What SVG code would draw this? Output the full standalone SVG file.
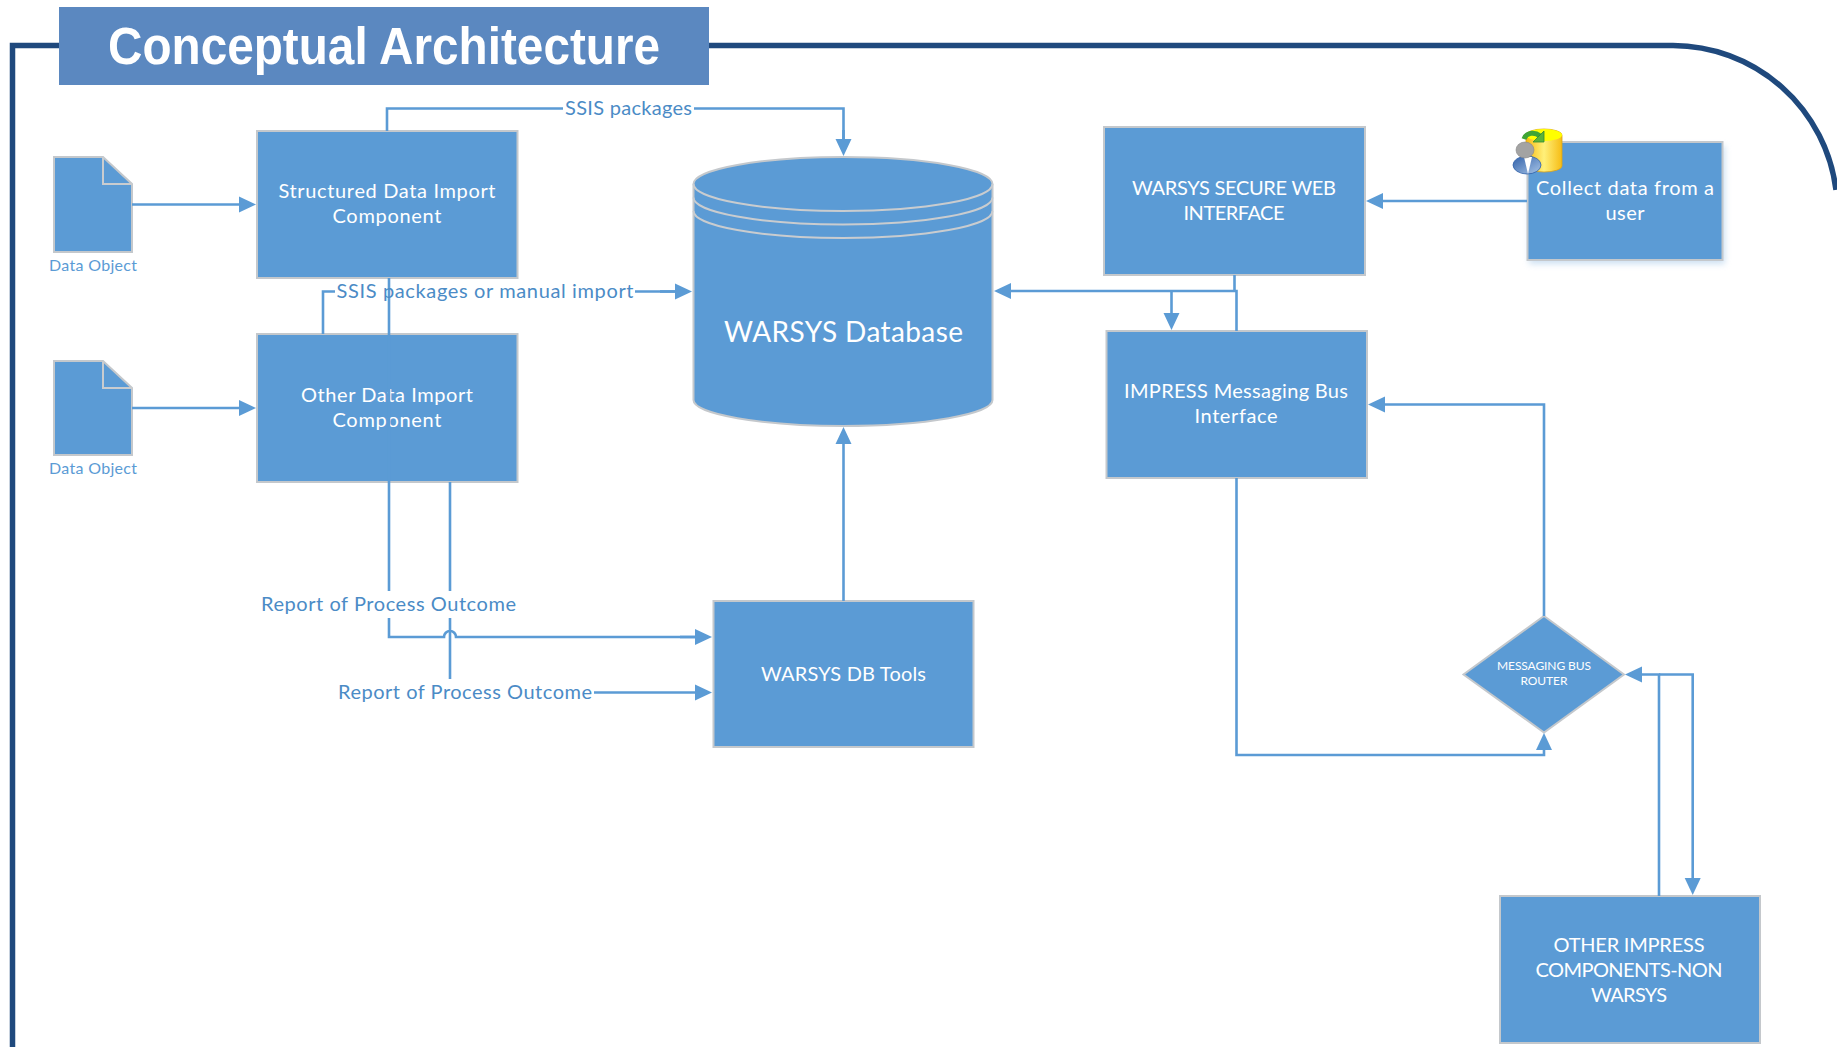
<svg xmlns="http://www.w3.org/2000/svg" width="1837" height="1047" viewBox="0 0 1837 1047">
<style>
text{font-family:"Lato","Carlito","Open Sans",sans-serif;text-anchor:middle}
.box{fill:#5B9BD5;stroke:#C4C8CC;stroke-width:2}
.t{fill:#fff;font-size:20px}
.t2{fill:#fff;font-size:12px}
.lbl{fill:#4B8BC6;font-size:20px}
.dl{fill:#5B9BD5;font-size:16px}
.c{fill:none;stroke:#5B9BD5;stroke-width:2.6}
.a{marker-end:url(#arr)}
.rim{fill:none;stroke:#C9CCCF;stroke-width:2}
</style>
<defs>
<marker id="arr" markerUnits="userSpaceOnUse" markerWidth="18" markerHeight="18" refX="13" refY="9" orient="auto"><path d="M0 1 L17 9 L0 17 Z" fill="#5B9BD5"/></marker>
<filter id="sh" x="-10%" y="-10%" width="120%" height="125%"><feGaussianBlur stdDeviation="3"/></filter>
<linearGradient id="yel" x1="0" x2="1" y1="0" y2="0"><stop offset="0" stop-color="#F9B90F"/><stop offset="0.5" stop-color="#FFF07A"/><stop offset="1" stop-color="#F6BC14"/></linearGradient>
<linearGradient id="suit" x1="0" x2="1" y1="0" y2="1"><stop offset="0" stop-color="#2F5FA8"/><stop offset="1" stop-color="#A9C6E8"/></linearGradient>
</defs>

<g id="frame"><path d="M12.5 1047 V45.5 H1673 A165 165 0 0 1 1836 190" fill="none" stroke="#1F497D" stroke-width="5.500"/></g>
<g id="title"><rect x="59" y="7" width="650" height="78" fill="#5B88C0"/><text x="384" y="64" textLength="552" lengthAdjust="spacingAndGlyphs" style="font-family:'Liberation Sans',Arial,sans-serif;font-weight:700;font-size:51px;fill:#fff">Conceptual Architecture</text></g>

<g id="doc1"><path d="M54 157 H103 L132 184 V252 H54 Z" class="box"/><path d="M103 157 V184 H132" class="rim"/><text x="93" y="271" class="dl" textLength="88">Data Object</text></g>
<g id="doc2"><path d="M54 361 H103 L132 388 V455 H54 Z" class="box"/><path d="M103 361 V388 H132" class="rim"/><text x="93" y="474" class="dl" textLength="88">Data Object</text></g>

<g id="structured"><rect x="257" y="131" width="260.500" height="147" class="box"/><text x="387" y="198" class="t" textLength="217">Structured Data Import</text><text x="387" y="223" class="t" textLength="109">Component</text></g>
<g id="other-import"><rect x="257" y="334" width="260.500" height="148" class="box"/><text x="387" y="402" class="t" textLength="172">Other Data Import</text><text x="387" y="427" class="t" textLength="109">Component</text></g>

<g id="database"><path d="M693.500 184 A149.500 27 0 0 1 992.500 184 V400 C992.500 414 925 426 843 426 C761 426 693.500 414 693.500 400 Z" class="box"/><path d="M693.500 184 A149.500 27 0 0 0 992.500 184 M693.500 197.500 A149.500 27 0 0 0 992.500 197.500 M693.500 211 A149.500 27 0 0 0 992.500 211" class="rim"/><text x="843.500" y="341.500" style="font-size:28px;fill:#fff" textLength="239">WARSYS Database</text></g>

<g id="db-tools"><rect x="713.500" y="601" width="260" height="146" class="box"/><text x="843.500" y="680.500" class="t" textLength="165">WARSYS DB Tools</text></g>

<g id="secure-web"><rect x="1104" y="127" width="261" height="148" class="box"/><text x="1234" y="195" class="t" textLength="204">WARSYS SECURE WEB</text><text x="1234" y="220" class="t" textLength="101">INTERFACE</text></g>

<g id="impress-bus"><rect x="1106.500" y="331" width="260.500" height="147" class="box"/><text x="1236" y="398" class="t" textLength="224">IMPRESS Messaging Bus</text><text x="1236" y="423" class="t" textLength="83">Interface</text></g>

<g id="collect"><rect x="1529" y="146" width="196" height="118" fill="#9DC3E6" opacity="0.5" filter="url(#sh)"/><rect x="1527.500" y="142" width="195" height="118" class="box"/><text x="1625" y="195" class="t" textLength="178">Collect data from a</text><text x="1625" y="220" class="t" textLength="39">user</text>
<path d="M1526 135 A18 6 0 0 1 1562 135 V166 A18 6 0 0 1 1526 166 Z" fill="url(#yel)" stroke="#D9A21B" stroke-width="0.8"/><ellipse cx="1544" cy="135" rx="18" ry="6" fill="#FFFF00"/>
<path d="M1524 139 C1526 133 1534 131 1540 136" fill="none" stroke="#3FA535" stroke-width="5"/><path d="M1544 131 V142 H1533 Z" fill="#5DB33A" stroke="#2E8B32" stroke-width="0.8"/>
<ellipse cx="1527" cy="165" rx="14" ry="9" fill="url(#suit)" stroke="#2F5FA8" stroke-width="0.8"/><path d="M1524 157 L1528 174 L1532 157 Z" fill="#fff"/>
<ellipse cx="1525" cy="150" rx="9" ry="8" fill="#A3A3A3" stroke="#888" stroke-width="0.6"/></g>

<g id="router"><path d="M1544 616 L1624 674.500 L1544 732.500 L1463.500 674.500 Z" class="box" stroke-width="1.6"/><text x="1544" y="670" class="t2" textLength="94">MESSAGING BUS</text><text x="1544" y="685" class="t2" textLength="47">ROUTER</text></g>

<g id="other-impress"><rect x="1500" y="896" width="260" height="147" class="box"/><text x="1629" y="951.500" class="t" textLength="151">OTHER IMPRESS</text><text x="1629" y="976.500" class="t" textLength="187">COMPONENTS-NON</text><text x="1629" y="1001.500" class="t" textLength="76">WARSYS</text></g>

<g id="connectors">
<path d="M132 204.500 H252" class="c a"/>
<path d="M132 408 H252" class="c a"/>
<path d="M387 131 V108.500 H563 M694 108.500 H843.500 V152" class="c"/><path d="M843.500 130 V152" class="c a"/>
<path d="M323 334 V291.500 H335 M635 291.500 H688" class="c"/><path d="M660 291.500 H688" class="c a"/>
<path d="M389 278 V591 M389 618 V637 H444 A6 6 0 0 1 456 637 H708" class="c"/><path d="M680 637 H708" class="c a"/>
<path d="M450 482 V591 M450 618 V679" class="c"/>
<path d="M594 692.500 H708" class="c a"/>
<path d="M843.500 601 V431" class="c a"/>
<path d="M1527 201 H1370" class="c a"/>
<path d="M1234.500 275 V291 M1236.500 331 V291 H998" class="c a"/>
<path d="M1171.500 291 V326" class="c a"/>
<path d="M1544 616 V404.500 H1372" class="c a"/>
<path d="M1236.500 478 V755 H1544 V737" class="c a"/>
<path d="M1659 896 V674.500 H1629" class="c a"/>
<path d="M1659 674.500 H1692.700 V891" class="c a"/>
<text x="628.500" y="115" class="lbl" textLength="127">SSIS packages</text>
<text x="485" y="298" class="lbl" textLength="297">SSIS packages or manual import</text>
<text x="388.500" y="611" class="lbl" textLength="255">Report of Process Outcome</text>
<text x="465" y="699" class="lbl" textLength="254">Report of Process Outcome</text>
</g>
</svg>
